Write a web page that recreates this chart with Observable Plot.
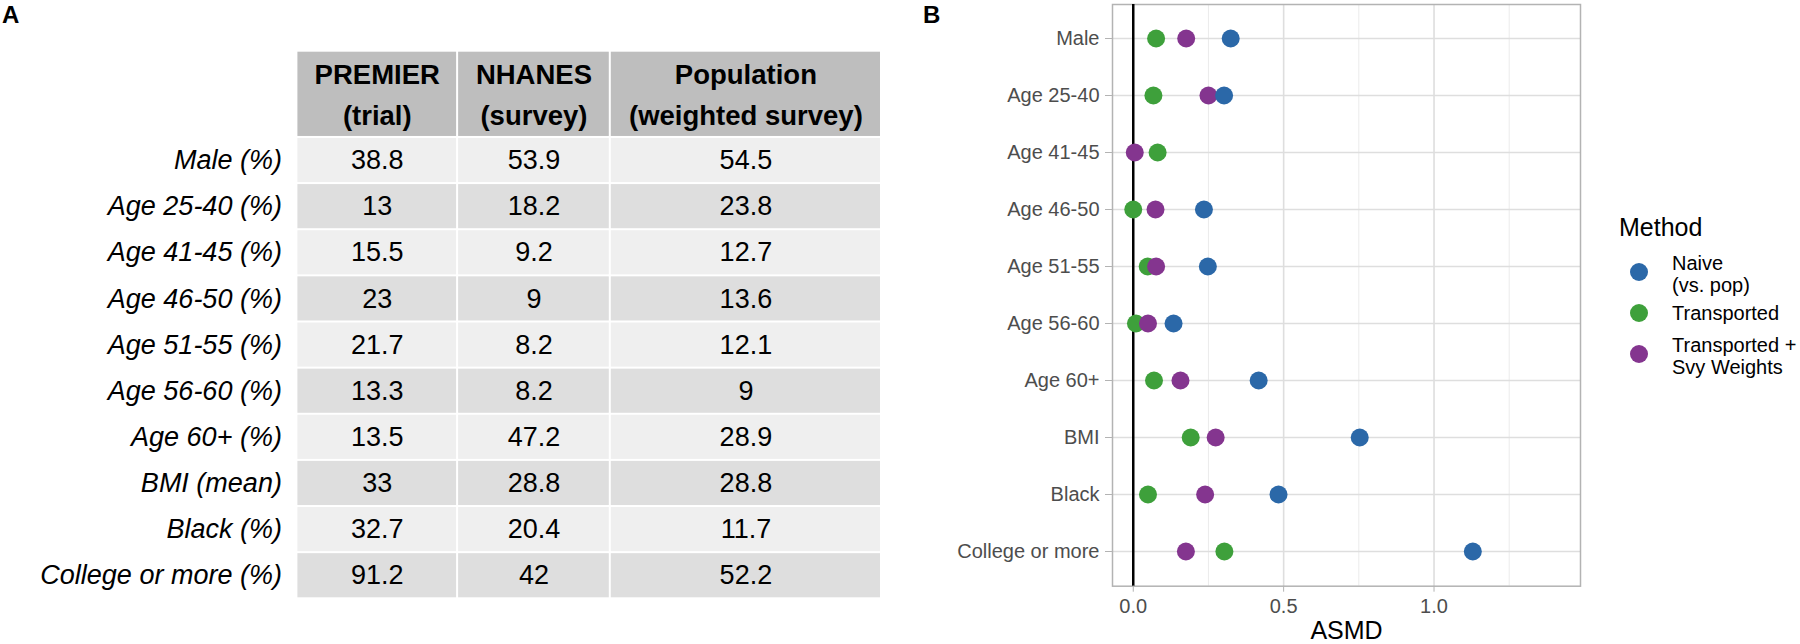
<!DOCTYPE html>
<html>
<head>
<meta charset="utf-8">
<script src="https://cdn.jsdelivr.net/npm/d3@7"></script>
<script src="https://cdn.jsdelivr.net/npm/@observablehq/plot@0.6"></script>
<style>
  html, body { margin: 0; padding: 0; background: #fff; }
  body { font-family: "Liberation Sans", Arial, Helvetica, sans-serif; }
  #root { position: relative; width: 1800px; height: 644px; overflow: hidden; background: #fff; }
  .tag { position: absolute; top: 1px; font-weight: bold; font-size: 24px; line-height: 1.2; color: #000; }
  .chart { position: absolute; top: 0; }
  #legend { position: absolute; left: 1619px; top: 215px; width: 181px; color: #000; }
  #legend .title { font-size: 25px; line-height: 25px; margin-bottom: 23px; white-space: nowrap; }
  #legend .item { position: relative; height: 41px; }
  #legend .dot { position: absolute; left: 11px; top: 0; width: 18px; height: 18px; border-radius: 50%; }
  #legend .lab { position: absolute; left: 53px; font-size: 20px; line-height: 21.5px; white-space: pre; }
</style>
</head>
<body>
<div id="root">
  <div class="tag" style="left:2px">A</div>
  <div class="tag" style="left:923px">B</div>
  <div id="tableA" class="chart" style="left:0px"></div>
  <div id="plotB" class="chart" style="left:920px"></div>
  <div id="legend"></div>
</div>
<script>
// ---------- Panel A data ----------
const tableRows = ["Male (%)", "Age 25-40 (%)", "Age 41-45 (%)", "Age 46-50 (%)", "Age 51-55 (%)",
  "Age 56-60 (%)", "Age 60+ (%)", "BMI (mean)", "Black (%)", "College or more (%)"];
const tableColumns = ["PREMIER\n(trial)", "NHANES\n(survey)", "Population\n(weighted survey)"];
const premierValues = [38.8, 13, 15.5, 23, 21.7, 13.3, 13.5, 33, 32.7, 91.2];
const nhanesValues = [53.9, 18.2, 9.2, 9, 8.2, 8.2, 47.2, 28.8, 20.4, 42];
const populationValues = [54.5, 23.8, 12.7, 13.6, 12.1, 9, 28.9, 28.8, 11.7, 52.2];

// ---------- Panel B data ----------
const smdCategories = ["Male", "Age 25-40", "Age 41-45", "Age 46-50", "Age 51-55",
  "Age 56-60", "Age 60+", "BMI", "Black", "College or more"];
const methods = ["Naive\n(vs. pop)", "Transported", "Transported +\nSvy Weights"];
const naiveASMD = [0.324, 0.302, null, 0.235, 0.248, 0.134, 0.417, 0.753, 0.483, 1.129];
const transportedASMD = [0.076, 0.067, 0.081, 0.000, 0.048, 0.009, 0.069, 0.191, 0.049, 0.303];
const transportedSvyASMD = [0.176, 0.250, 0.005, 0.074, 0.076, 0.049, 0.157, 0.274, 0.239, 0.175];
const xTicks = [0, 0.5, 1.0];
const xMinorTicks = [0.25, 0.75, 1.25];

// ---------- styles / layout ----------
const FONT = "Liberation Sans, Arial, Helvetica, sans-serif";
const methodColors = ["#2B68A8", "#3EA03B", "#84358F"];
const cellKinds = ["header", "light", "dark"];
const cellColors = ["#BEBEBE", "#EFEFEF", "#DEDEDE"];
const colWidths = [160, 152, 270];
const headerH = 86, rowH = 46;

// ---------- Panel A: table ----------
{
  const cum = [0];
  colWidths.forEach(w => cum.push(cum[cum.length - 1] + w));
  const columnsValues = [premierValues, nhanesValues, populationValues];
  const cells = [];
  tableColumns.forEach((col, j) => cells.push({x1: cum[j], x2: cum[j + 1], y1: 0, y2: headerH, kind: "header", text: col}));
  tableRows.forEach((r, i) => columnsValues.forEach((vals, j) => cells.push({
    x1: cum[j], x2: cum[j + 1], y1: headerH + i * rowH, y2: headerH + (i + 1) * rowH,
    kind: i % 2 ? "dark" : "light", text: String(vals[i])
  })));
  const rowLabels = tableRows.map((r, i) => ({label: r, y: headerH + (i + 0.5) * rowH}));
  const total = cum[cum.length - 1];
  const tableH = headerH + tableRows.length * rowH;

  const svgA = Plot.plot({
    width: 900, height: 644,
    margin: 0,
    style: {fontFamily: FONT, background: "transparent", overflow: "visible"},
    x: {domain: [0, total], range: [296.4, 881], axis: null},
    y: {domain: [0, tableH], range: [50.7, 598.3], axis: null},
    color: {domain: cellKinds, range: cellColors},
    marks: [
      Plot.rect(cells, {x1: "x1", x2: "x2", y1: "y1", y2: "y2", fill: "kind",
        insetLeft: 1, insetRight: 1, insetTop: 1, insetBottom: 1}),
      Plot.text(cells.filter(d => d.kind === "header"), {
        x: d => (d.x1 + d.x2) / 2, y: d => (d.y1 + d.y2) / 2, text: "text", dy: -3,
        fontSize: 27.5, fontWeight: "bold", lineHeight: 1.5, fill: "#000"
      }),
      Plot.text(cells.filter(d => d.kind !== "header"), {
        x: d => (d.x1 + d.x2) / 2, y: d => (d.y1 + d.y2) / 2, text: "text",
        fontSize: 27, fill: "#000"
      }),
      Plot.text(rowLabels, {x: 0, y: "y", text: "label", textAnchor: "end", dx: -15,
        fontSize: 27, fontStyle: "italic", fill: "#000"})
    ]
  });
  document.getElementById("tableA").append(svgA);
}

// ---------- Panel B: dot plot ----------
{
  const order = [1, 2, 0]; // draw green, purple, then blue on top
  const series = [naiveASMD, transportedASMD, transportedSvyASMD];
  const asmdData = [];
  smdCategories.forEach((c, i) => order.forEach(m => {
    const v = series[m][i];
    if (v != null) asmdData.push({category: c, method: methods[m], asmd: v});
  }));

  const svgB = Plot.plot({
    width: 680, height: 644,
    marginLeft: 192, marginRight: 20, marginTop: 4, marginBottom: 58.3,
    style: {fontFamily: FONT, background: "transparent", overflow: "visible"},
    x: {domain: [-0.069, 1.487]},
    y: {type: "point", domain: smdCategories, padding: 0.6},
    color: {domain: methods, range: methodColors},
    marks: [
      Plot.ruleX(xMinorTicks, {stroke: "#EBEBEB", strokeWidth: 1}),
      Plot.ruleX(xTicks, {stroke: "#DEDEDE", strokeWidth: 1.6}),
      Plot.ruleY(smdCategories, {stroke: "#DEDEDE", strokeWidth: 1.6}),
      Plot.frame({stroke: "#B3B3B3", strokeWidth: 1.5}),
      Plot.ruleX([0], {stroke: "#000", strokeWidth: 2.5}),
      Plot.dot(asmdData, {x: "asmd", y: "category", fill: "method", r: 9, stroke: "none"}),
      Plot.axisX(xTicks, {tickFormat: d3.format(".1f"), tickSize: 6, tickPadding: 7,
        fontSize: 20, stroke: "#B3B3B3", fill: "#4D4D4D", label: null}),
      Plot.axisY({tickSize: 7, tickPadding: 6, fontSize: 20, stroke: "#B3B3B3",
        fill: "#4D4D4D", label: null}),
      Plot.text(["ASMD"], {frameAnchor: "bottom", dy: 53, fontSize: 25, fill: "#000"})
    ]
  });
  document.getElementById("plotB").append(svgB);

  // legend (HTML, beside the SVG)
  const legend = document.getElementById("legend");
  const title = document.createElement("div");
  title.className = "title";
  title.textContent = "Method";
  legend.append(title);
  const labelOffsets = [-10, -1, -10];
  methods.forEach((m, k) => {
    const item = document.createElement("div");
    item.className = "item";
    const dot = document.createElement("div");
    dot.className = "dot";
    dot.style.background = methodColors[k];
    const lab = document.createElement("div");
    lab.className = "lab";
    lab.style.top = labelOffsets[k] + "px";
    lab.textContent = m;
    item.append(dot, lab);
    legend.append(item);
  });
}
</script>
</body>
</html>
